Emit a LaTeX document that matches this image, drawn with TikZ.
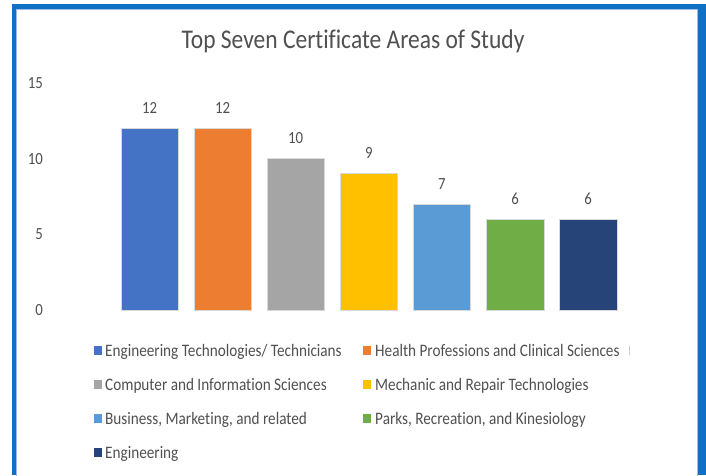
\documentclass[tikz,border=0pt]{standalone}
\usepackage{fontspec}
\setmainfont[FakeStretch=0.87,Ligatures=NoCommon]{Carlito}
\definecolor{frameblue}{HTML}{1070C4}
\definecolor{framelight}{HTML}{9DBBE6}
\definecolor{txt}{HTML}{505050}
\definecolor{cA}{HTML}{4472C4}
\definecolor{cB}{HTML}{ED7D31}
\definecolor{cC}{HTML}{A5A5A5}
\definecolor{cD}{HTML}{FFC000}
\definecolor{cE}{HTML}{5B9BD5}
\definecolor{cF}{HTML}{70AD47}
\definecolor{cG}{HTML}{264478}
\tikzset{
  barbox/.style={draw=white!85!black, line width=0.4pt, minimum width=57.5pt, inner sep=0pt, anchor=south},
  vallabel/.style={text=txt, font=\fontsize{17}{20}\selectfont, inner sep=0pt},
  axislabel/.style={text=txt, font=\fontsize{17}{20}\selectfont, inner sep=0pt, anchor=east},
  legsq/.style={minimum width=8pt, minimum height=9pt, inner sep=0pt},
  legtext/.style={text=txt, font=\fontsize{17.5}{20}\selectfont, inner sep=0pt, anchor=base west},
}
\begin{document}
\begin{tikzpicture}[x=1pt,y=-1pt]
\useasboundingbox (0,0) rectangle (706,475);
\fill[white] (0,0) rectangle (706,475);
\fill[frameblue] (12,4) rectangle (706,475);
\fill[white] (17,9.5) rectangle (697,476);
\draw[framelight, line width=1pt] (16.5,478) -- (16.5,9.5) -- (697,9.5) -- (697,478);
% title
\node[text=txt, font=\fontsize{27}{31}\selectfont, inner sep=0pt] (title) at (353,41) {Top Seven Certificate Areas of Study};
% axis labels
\node[axislabel] (y15) at (43,82.8) {15};
\node[axislabel] (y10) at (43,158.6) {10};
\node[axislabel] (y5) at (43,234.5) {5};
\node[axislabel] (y0) at (43,310.3) {0};
% bars
\foreach \i/\v/\c in {0/12/cA,1/12/cB,2/10/cC,3/9/cD,4/7/cE,5/6/cF,6/6/cG}{
  \node[barbox, fill=\c, minimum height=\v*15.17pt] (bar\i) at (149.5+73.1*\i,310.3) {};
  \node[vallabel] (val\i) at ([yshift=20pt]bar\i.north) {\v};
}
% legend
\node[legsq, fill=cA] (sqA) at (98,350.5) {};
\node[legtext] (lgA) at (105,356.3) {Engineering Technologies/ Technicians};
\node[legsq, fill=cB] (sqB) at (367,350.5) {};
\node[legtext] (lgB) at (375,356.3) {Health Professions and Clinical Sciences};
\node[legsq, fill=cC] (sqC) at (98,384.5) {};
\node[legtext] (lgC) at (105,390.3) {Computer and Information Sciences};
\node[legsq, fill=cD] (sqD) at (367,384.5) {};
\node[legtext] (lgD) at (375,390.3) {Mechanic and Repair Technologies};
\node[legsq, fill=cE] (sqE) at (98,418.5) {};
\node[legtext] (lgE) at (105,424.3) {Business, Marketing, and related};
\node[legsq, fill=cF] (sqF) at (367,418.5) {};
\node[legtext] (lgF) at (375,424.3) {Parks, Recreation, and Kinesiology};
\node[legsq, fill=cG] (sqG) at (98,452.5) {};
\node[legtext] (lgG) at (105,458.3) {Engineering};
\coordinate (tickA) at (629,346);
\coordinate (tickB) at (629,355);
\draw[gray!40, line width=0.8pt] (tickA) -- (tickB);
\end{tikzpicture}
\end{document}
